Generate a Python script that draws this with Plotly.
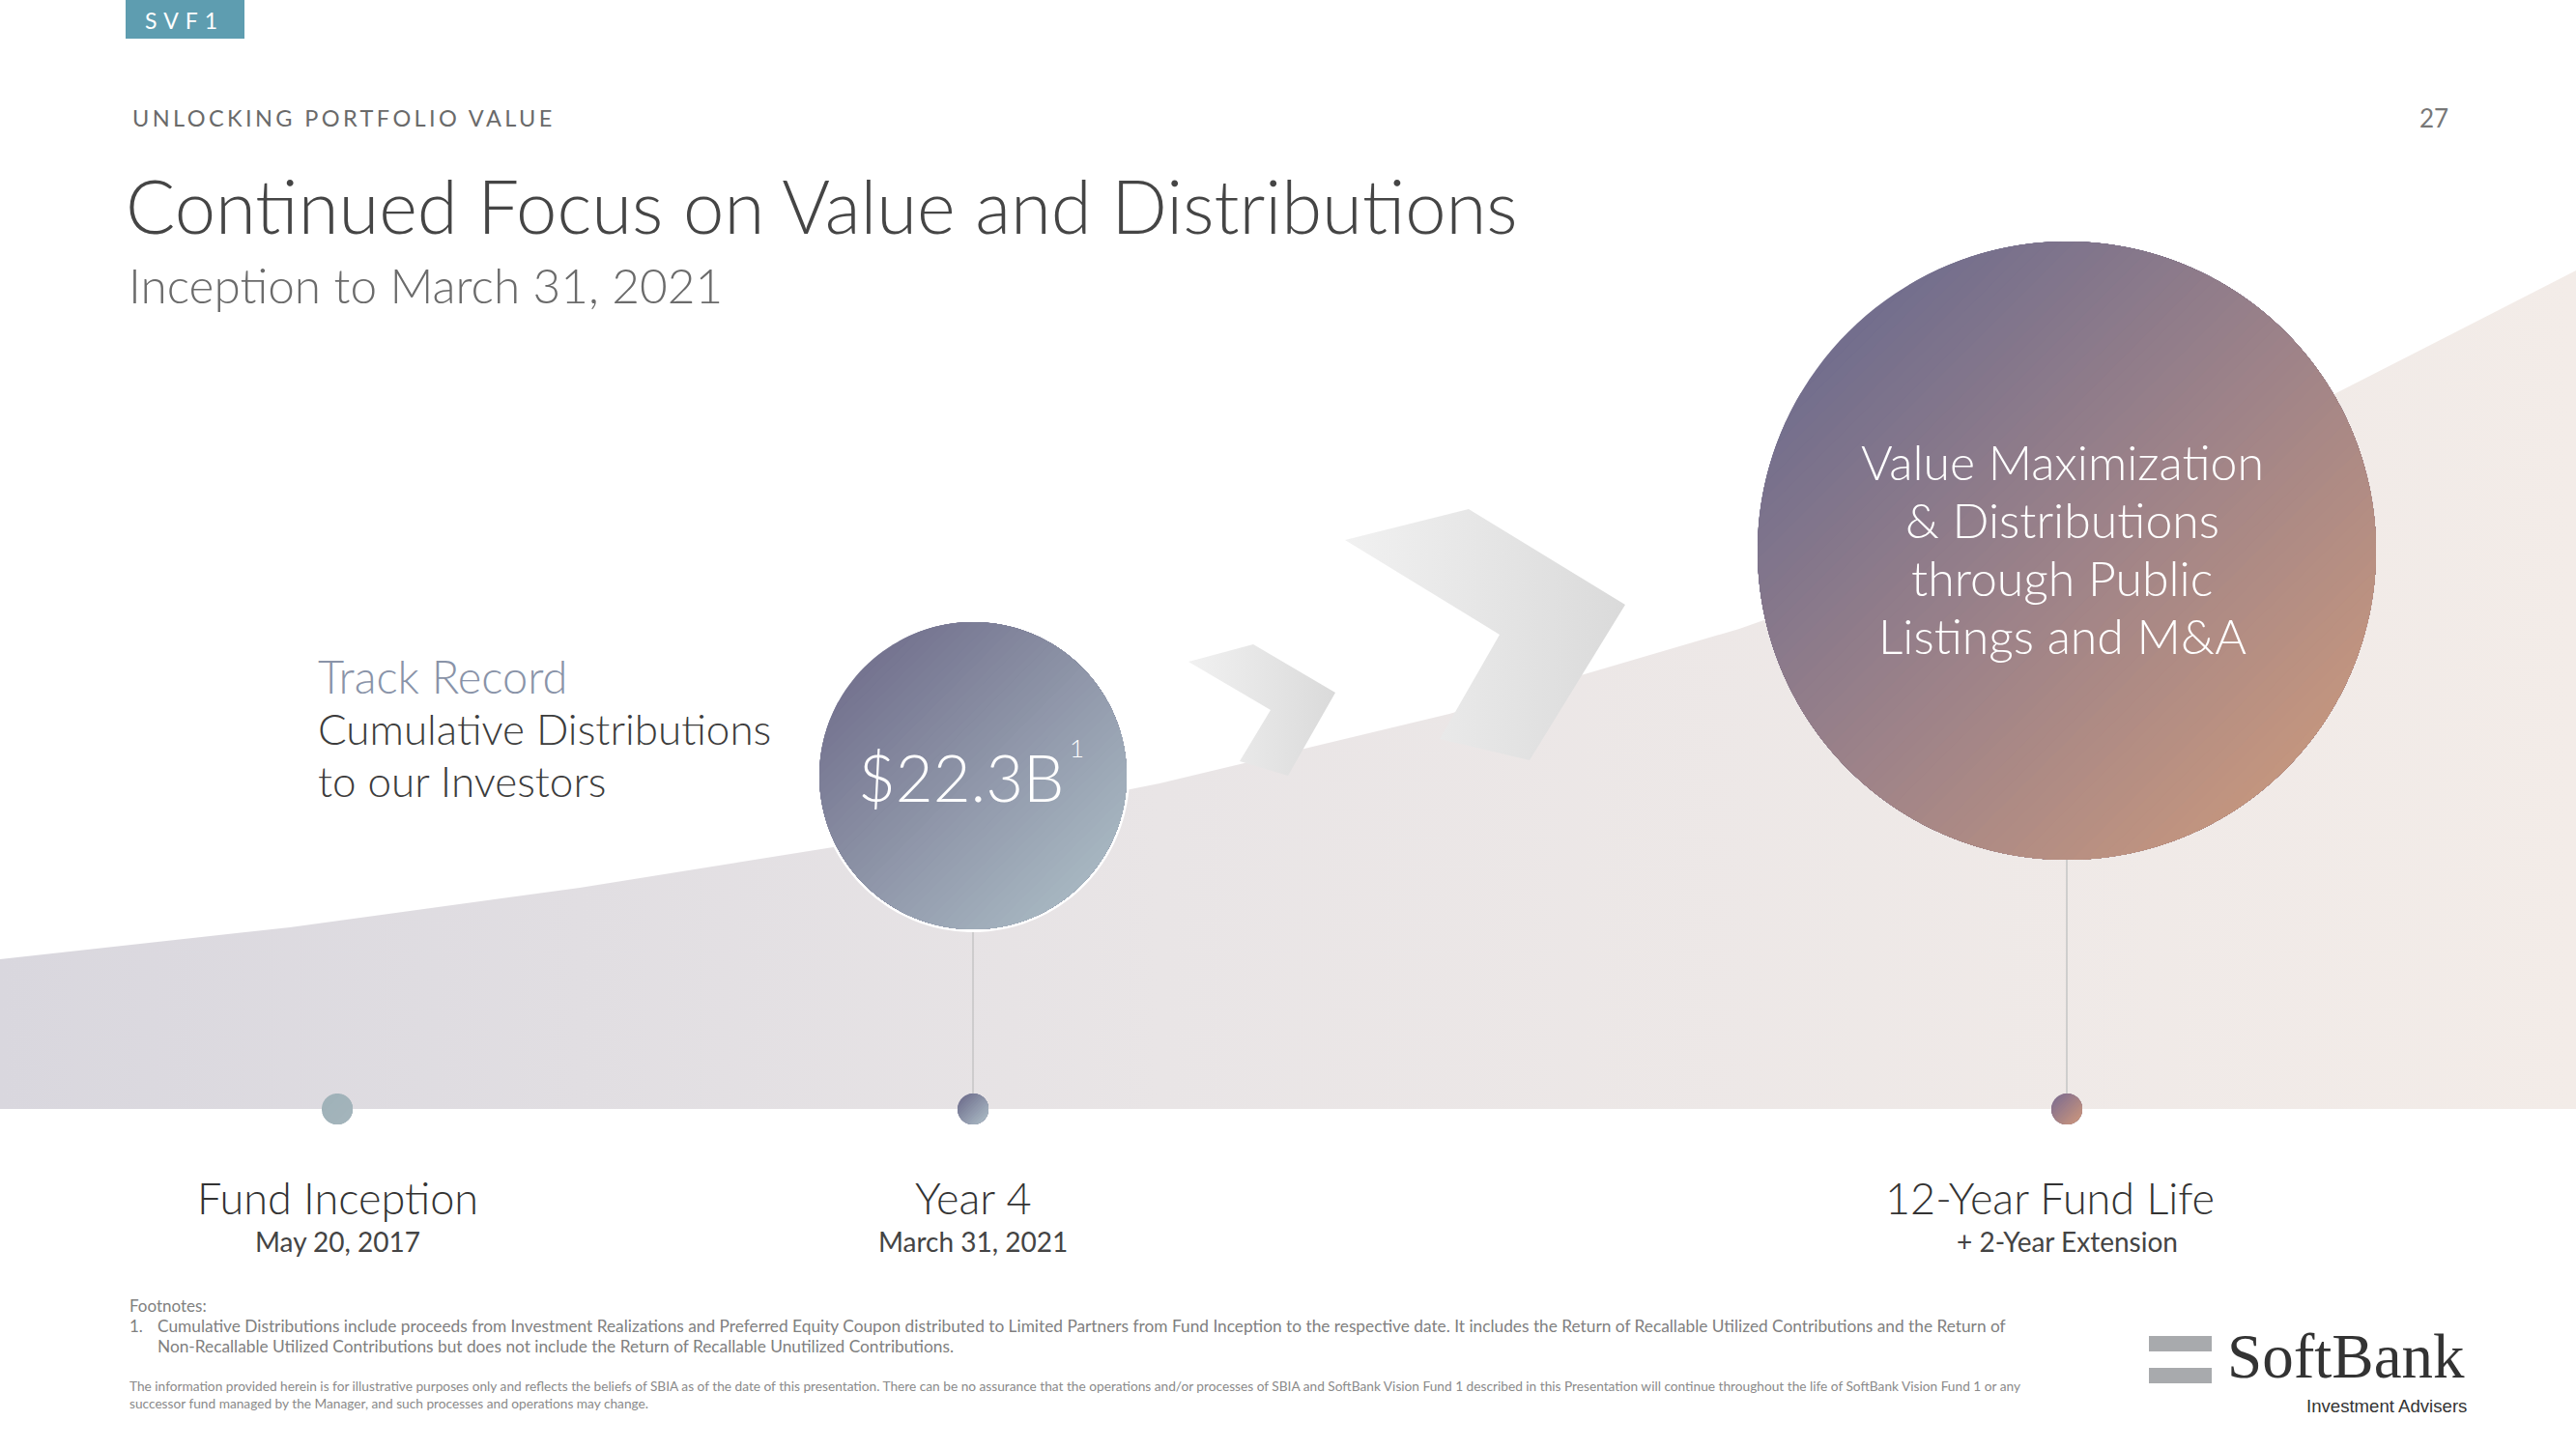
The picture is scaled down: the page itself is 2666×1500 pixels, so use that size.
import numpy as np
import plotly.graph_objects as go

W, H = 2666, 1500

# ---------------- data ----------------
curve_x = [0, 300, 600, 900, 1200, 1500, 1800, 2100, 2400, 2666]
curve_y = [993, 960, 919, 871, 811, 739, 651, 545, 416, 280]
baseline_y = 1148

milestone_x = [349, 1007, 2139]
milestone_titles = ["Fund Inception", "Year 4", "12-Year Fund Life"]
milestone_subs = ["May 20, 2017", "March 31, 2021", "+ 2-Year Extension"]

distribution_value = "$22.3B"
footnote_mark = "1"
track_lines = ["Track Record", "Cumulative Distributions", "to our Investors"]
future_lines = ["Value Maximization", "& Distributions", "through Public", "Listings and M&A"]

small_chev_x = [1230, 1297, 1382, 1333, 1283, 1315]
small_chev_y = [685, 667, 717, 803, 788, 735]
big_chev_x = [1392, 1520, 1682, 1583, 1490, 1552]
big_chev_y = [559, 527, 626, 787, 765, 657]

section_label = "UNLOCKING PORTFOLIO VALUE"
page_number = "27"
title = "Continued Focus on Value and Distributions"
subtitle = "Inception to March 31, 2021"
footnote_head = "Footnotes:"
footnote_lines = [
    "Cumulative Distributions include proceeds from Investment Realizations and Preferred Equity Coupon distributed to Limited Partners from Fund Inception to the respective date. It includes the Return of Recallable Utilized Contributions and the Return of",
    "Non-Recallable Utilized Contributions but does not include the Return of Recallable Unutilized Contributions.",
]
disclaimer_lines = [
    "The information provided herein is for illustrative purposes only and reflects the beliefs of SBIA as of the date of this presentation. There can be no assurance that the operations and/or processes of SBIA and SoftBank Vision Fund 1 described in this Presentation will continue throughout the life of SoftBank Vision Fund 1 or any",
    "successor fund managed by the Manager, and such processes and operations may change.",
]
brand = "SoftBank"
brand_sub = "Investment Advisers"

FONT = "Lato"


def hex2rgb(h):
    h = h.lstrip('#')
    return [int(h[i:i + 2], 16) for i in (0, 2, 4)]


def interp(stops, t):
    n = len(stops) - 1
    pos = min(max(t, 0), 1) * n
    i = min(int(pos), n - 1)
    f = pos - i
    a, b = hex2rgb(stops[i]), hex2rgb(stops[i + 1])
    c = [round(a[j] + (b[j] - a[j]) * f) for j in range(3)]
    return f"rgb({c[0]},{c[1]},{c[2]})"


def gradient_disc(cx, cy, r, stops, n=48, angle_deg=45):
    a = np.deg2rad(angle_deg)
    d = np.array([np.cos(a), np.sin(a)])
    p = np.array([-d[1], d[0]])
    out = []
    for k in range(n):
        u = -r + 2 * r * k / n
        th = np.arccos(np.clip(u / r, -1, 1))
        t = np.linspace(-th, th, 160)
        xs = cx + r * (np.cos(t) * d[0] + np.sin(t) * p[0])
        ys = cy + r * (np.cos(t) * d[1] + np.sin(t) * p[1])
        out.append(go.Scatter(x=xs, y=ys, fill='toself', mode='none',
                              fillcolor=interp(stops, (k + 0.5) / n),
                              hoverinfo='skip', showlegend=False))
    return out


fig = go.Figure()

# background growth area
fig.add_trace(go.Scatter(
    x=curve_x + [curve_x[-1], curve_x[0]],
    y=curve_y + [baseline_y, baseline_y],
    fill='toself', mode='none',
    fillgradient=dict(type='horizontal',
                      colorscale=[[0, '#d9d7de'], [0.45, '#e9e5e6'], [1, '#f3ece8']]),
    hoverinfo='skip', showlegend=False))

# chevrons
for cx_, cy_ in [(small_chev_x, small_chev_y), (big_chev_x, big_chev_y)]:
    fig.add_trace(go.Scatter(
        x=cx_ + [cx_[0]], y=cy_ + [cy_[0]], fill='toself', mode='none',
        fillgradient=dict(type='horizontal',
                          colorscale=[[0, '#f1f1f1'], [1, '#dadada']]),
        hoverinfo='skip', showlegend=False))

# stems
small_c = (1007, 803, 159)
big_c = (2139, 570, 320)
for (cx, cy, r) in [small_c, big_c]:
    fig.add_trace(go.Scatter(x=[cx, cx], y=[cy + r, baseline_y], mode='lines',
                             line=dict(color='#c4c4c4', width=1.5),
                             hoverinfo='skip', showlegend=False))

# white ring behind small bubble
t = np.linspace(0, 2 * np.pi, 300)
fig.add_trace(go.Scatter(x=small_c[0] + (small_c[2] + 3) * np.cos(t),
                         y=small_c[1] + (small_c[2] + 3) * np.sin(t),
                         fill='toself', mode='none', fillcolor='white',
                         hoverinfo='skip', showlegend=False))
for tr in gradient_disc(*small_c, ['#74738f', '#8e95a8', '#a7b6c1']):
    fig.add_trace(tr)
for tr in gradient_disc(*big_c, ['#726e8d', '#9c8289', '#c3957f'], n=64):
    fig.add_trace(tr)

# milestone dots
dot_r = 16
for tr in gradient_disc(milestone_x[0], baseline_y, dot_r, ['#a0b2b9', '#a3b4bb'], n=4):
    fig.add_trace(tr)
for tr in gradient_disc(milestone_x[1], baseline_y, dot_r, ['#727390', '#a6b4c0'], n=14):
    fig.add_trace(tr)
for tr in gradient_disc(milestone_x[2], baseline_y, dot_r, ['#84708e', '#c4927e'], n=14):
    fig.add_trace(tr)

ann = []


def text(x, y, s, size, color, xanchor='left', yanchor='middle', family=FONT,
         weight=None, align='left'):
    f = dict(family=family, size=size, color=color)
    if weight:
        f['weight'] = weight
    ann.append(dict(x=x, y=y, xref='x', yref='y', text=s, showarrow=False,
                    xanchor=xanchor, yanchor=yanchor, font=f, align=align))


# header
text(191, 21, '<span style="letter-spacing:7px">SVF1</span>', 23, 'white', xanchor='center')
text(135, 122, f'<span style="letter-spacing:3.4px">{section_label}</span>', 23.5, '#6a6a6a')
text(2536, 122, page_number, 26, '#777777', xanchor='right')
text(128, 212, title, 76, '#454545', weight=300)
text(131, 295, subtitle, 49.5, '#6b6b6b', weight=300)

# left block
text(327, 700, track_lines[0], 47, '#8993a8', weight=300)
text(327, 754, track_lines[1], 44, '#3c3c3c', weight=300)
text(327, 808, track_lines[2], 44, '#3c3c3c', weight=300)

# bubble texts
text(994, 804, distribution_value, 67, 'white', xanchor='center', weight=300)
text(1114, 774, footnote_mark, 26, 'white', xanchor='center', weight=300)
for i, s in enumerate(future_lines):
    text(2134, 478 + i * 60, s, 50, 'white', xanchor='center', weight=300)

# milestone labels
title_x = [349, 1007, 2121]
sub_x = [349, 1007, 2139]
for i in range(3):
    text(title_x[i], 1240, milestone_titles[i], 45, '#333333', xanchor='center', weight=300)
    text(sub_x[i], 1285, milestone_subs[i], 28, '#444444', xanchor='center')

# footnotes
text(132, 1351, footnote_head, 17, '#808080')
text(132, 1372, '1.', 17, '#808080')
text(161, 1372, footnote_lines[0], 17.3, '#808080')
text(161, 1393, footnote_lines[1], 17.3, '#808080')
text(132, 1434, disclaimer_lines[0], 13.7, '#8a8a8a')
text(132, 1452, disclaimer_lines[1], 13.7, '#8a8a8a')

# logo text
text(2553, 1404, brand, 65, '#333333', xanchor='right', family='Liberation Serif')
text(2555, 1455, brand_sub, 18.6, '#333333', xanchor='right', family='Liberation Sans')

shapes = [
    dict(type='rect', xref='x', yref='y', x0=130, x1=253, y0=0, y1=40,
         fillcolor='#5e9db0', line=dict(width=0), layer='below'),
    dict(type='rect', xref='x', yref='y', x0=2224, x1=2289, y0=1383, y1=1399,
         fillcolor='#a8aaad', line=dict(width=0)),
    dict(type='rect', xref='x', yref='y', x0=2224, x1=2289, y0=1416, y1=1432,
         fillcolor='#a8aaad', line=dict(width=0)),
]

fig.update_layout(
    width=W, height=H, margin=dict(l=0, r=0, t=0, b=0),
    paper_bgcolor='white', plot_bgcolor='white',
    xaxis=dict(range=[0, W], visible=False, fixedrange=True),
    yaxis=dict(range=[H, 0], visible=False, fixedrange=True),
    showlegend=False, annotations=ann, shapes=shapes,
)

fig.write_html("out.html", config={'displayModeBar': False},
               post_script="document.body.style.margin='0px';document.body.style.overflow='hidden';")
